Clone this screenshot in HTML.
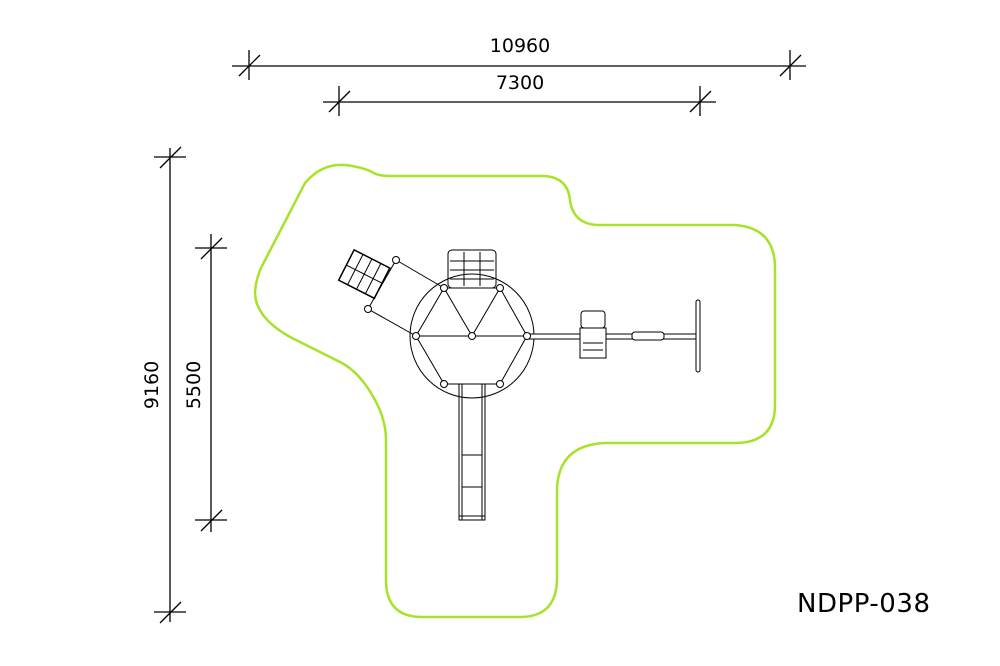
<!DOCTYPE html>
<html><head><style>body{margin:0;background:#fff}svg{display:block}</style></head><body>
<svg width="1000" height="666" viewBox="0 0 1000 666" xmlns="http://www.w3.org/2000/svg" font-family="DejaVu Sans, sans-serif">
<rect width="1000" height="666" fill="#fff"/>
<path d="M305,183 Q322,163 345,165 Q362,167 372,172 Q378,176 390,176 L545,176 Q568,178 570,200 Q573,224 598,225 L735,225 Q775,228 775,268 L775,405 Q775,443 735,443 L605,443 Q558,445 557,490 L557,580 Q556,617 520,617 L422,617 Q386,617 386,580 L386,440 Q386,420 375,400 Q360,372 340,362 L292,338 Q255,318 255,292 Q256,278 262,266 Z" fill="none" stroke="#a8e22a" stroke-width="2.5"/>
<g stroke="#000" stroke-width="1.3" fill="none">
<line x1="232" y1="66" x2="806" y2="66"/>
<line x1="249" y1="50" x2="249" y2="80"/><line x1="239" y1="76" x2="260" y2="55"/>
<line x1="790" y1="50" x2="790" y2="80"/><line x1="780" y1="76" x2="801" y2="55"/>
<line x1="323" y1="102" x2="716" y2="102"/>
<line x1="339" y1="86" x2="339" y2="116"/><line x1="329" y1="112" x2="350" y2="91"/>
<line x1="700" y1="86" x2="700" y2="116"/><line x1="690" y1="112" x2="711" y2="91"/>
<line x1="170" y1="148" x2="170" y2="622"/>
<line x1="154" y1="157" x2="186" y2="157"/><line x1="160" y1="168" x2="181" y2="147"/>
<line x1="154" y1="612" x2="186" y2="612"/><line x1="160" y1="623" x2="181" y2="602"/>
<line x1="211" y1="234" x2="211" y2="532"/>
<line x1="195" y1="248" x2="227" y2="248"/><line x1="201" y1="259" x2="222" y2="238"/>
<line x1="195" y1="520" x2="227" y2="520"/><line x1="201" y1="531" x2="222" y2="510"/>
</g>
<g font-size="19" fill="#000">
<text x="520" y="52" text-anchor="middle">10960</text>
<text x="520" y="89" text-anchor="middle">7300</text>
<text transform="translate(158,385) rotate(-90)" text-anchor="middle">9160</text>
<text transform="translate(200,385) rotate(-90)" text-anchor="middle">5500</text>
<text x="797" y="612" font-size="26" textLength="133">NDPP-038</text>
</g>
<g stroke="#000" stroke-width="1" fill="none">
<rect x="459" y="384" width="26" height="136" fill="#fff"/>
<line x1="462" y1="384" x2="462" y2="520"/><line x1="482" y1="384" x2="482" y2="520"/>
<line x1="462" y1="455" x2="482" y2="455"/><line x1="462" y1="487" x2="482" y2="487"/><line x1="459" y1="516" x2="485" y2="516"/>
<rect x="448" y="250" width="48" height="38" rx="4"/>
<line x1="464" y1="252" x2="464" y2="286"/><line x1="480" y1="252" x2="480" y2="286"/>
<line x1="450" y1="261" x2="494" y2="261"/><line x1="450" y1="270" x2="494" y2="270"/><line x1="450" y1="279" x2="494" y2="279"/>
<g transform="translate(366,275) rotate(27)">
<rect x="-22" y="-17" width="40" height="34" stroke-width="1.5"/>
<line x1="-12" y1="-17" x2="-12" y2="17"/><line x1="-2" y1="-17" x2="-2" y2="17"/><line x1="8" y1="-17" x2="8" y2="17"/>
<line x1="-22" y1="0" x2="18" y2="0"/>
</g>
<line x1="396" y1="260" x2="444" y2="288"/><line x1="368" y1="309" x2="416" y2="336"/>
<line x1="396" y1="260" x2="368" y2="309"/>
<circle cx="472" cy="336" r="62" fill="none"/>
<polygon points="416,336 444,288 500,288 527,336 500,384 444,384"/>
<line x1="416" y1="336" x2="527" y2="336"/>
<line x1="444" y1="288" x2="472" y2="336"/><line x1="500" y1="288" x2="472" y2="336"/>
<rect x="527" y="334" width="170" height="5" fill="#fff"/>
<rect x="581" y="311" width="24" height="17" rx="3" fill="#fff"/>
<rect x="580" y="328" width="26" height="30" fill="#fff"/>
<line x1="583" y1="343" x2="603" y2="343"/><line x1="583" y1="350" x2="603" y2="350"/>
<rect x="632" y="332" width="32" height="8" rx="3" fill="#fff"/>
<rect x="696" y="300" width="4" height="72" rx="2" fill="#fff"/>
</g>
<g stroke="#000" stroke-width="1" fill="#fff">
<circle cx="416" cy="336" r="3.5"/><circle cx="472" cy="336" r="3.5"/><circle cx="527" cy="336" r="3.5"/>
<circle cx="444" cy="288" r="3.5"/><circle cx="500" cy="288" r="3.5"/><circle cx="444" cy="384" r="3.5"/><circle cx="500" cy="384" r="3.5"/>
<circle cx="396" cy="260" r="3.5"/><circle cx="368" cy="309" r="3.5"/>
</g>
</svg>
</body></html>
